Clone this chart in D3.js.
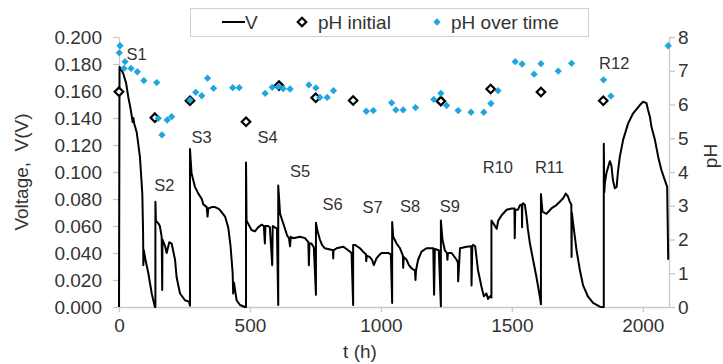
<!DOCTYPE html>
<html>
<head>
<meta charset="utf-8">
<script src="https://cdn.jsdelivr.net/npm/d3@7"></script>
<style>
  body { margin: 0; background: #fff; }
  svg { font-family: "Liberation Sans", Arial, sans-serif; }
</style>
</head>
<body>
<div id="chart"></div>
<script>
// voltage record, [t (h), V]
var voltage = [
  [0, 0], [2, 0.178], [8, 0.176], [16, 0.173], [27, 0.166], [35, 0.156], [45, 0.146], [52, 0.137],
  [55, 0.140], [58, 0.136], [68, 0.129], [80, 0.111], [89, 0.084], [92, 0.055], [93, 0.031], [95, 0.042],
  [99, 0.037], [112, 0.025], [125, 0.010], [137, 0.0], [139, 0.0],
  [139, 0.078], [141, 0.064], [150, 0.062], [156, 0.060], [163, 0.052], [165, 0.0126], [166, 0.050],
  [176, 0.045], [182, 0.040], [192, 0.048], [201, 0.047], [214, 0.035], [220, 0.022], [233, 0.010],
  [252, 0.005], [267, 0.004], [271, 0.001],
  [271, 0.117], [277, 0.099], [290, 0.089], [303, 0.084], [316, 0.080], [322, 0.076], [335, 0.074],
  [338, 0.067], [341, 0.073], [354, 0.074], [366, 0.074], [378, 0.073], [385, 0.072], [405, 0.067],
  [417, 0.059], [426, 0.045], [434, 0.025], [436, 0.010], [439, 0.018], [449, 0.005], [462, 0.0015],
  [481, 0.0], [485, 0.0],
  [485, 0.107], [487, 0.064], [506, 0.057], [519, 0.056], [531, 0.059], [545, 0.061], [553, 0.060],
  [557, 0.047], [559, 0.060], [569, 0.060], [576, 0.059], [585, 0.031], [587, 0.060], [595, 0.059],
  [603, 0.058], [608, 0.0015],
  [608, 0.090], [615, 0.069], [627, 0.062], [642, 0.053], [649, 0.051], [653, 0.045], [656, 0.052],
  [665, 0.051], [691, 0.052], [710, 0.051], [723, 0.048], [725, 0.031], [727, 0.047], [735, 0.047],
  [744, 0.044], [752, 0.009],
  [752, 0.0625], [757, 0.057], [767, 0.050], [775, 0.046], [786, 0.0435], [798, 0.043], [817, 0.042],
  [818, 0.036], [819, 0.042], [831, 0.0435], [856, 0.0447], [875, 0.042], [888, 0.040], [894, 0.0015],
  [894, 0.046], [901, 0.046], [920, 0.0435], [932, 0.041], [943, 0.039], [944, 0.034], [946, 0.038],
  [958, 0.037], [966, 0.035], [973, 0.031], [983, 0.036], [996, 0.039], [1003, 0.040], [1028, 0.040],
  [1038, 0.039], [1043, 0.003],
  [1043, 0.063], [1047, 0.052], [1060, 0.047], [1073, 0.0435], [1084, 0.038], [1085, 0.029], [1087, 0.037],
  [1098, 0.035], [1107, 0.031], [1117, 0.0287], [1130, 0.027], [1132, 0.020], [1134, 0.027], [1142, 0.035],
  [1155, 0.041], [1174, 0.0435], [1200, 0.0435], [1203, 0.009], [1206, 0.043], [1221, 0.042], [1229, 0.0005],
  [1229, 0.064], [1235, 0.050], [1244, 0.042], [1252, 0.040], [1254, 0.035], [1256, 0.040], [1270, 0.040],
  [1289, 0.035], [1294, 0.033], [1295, 0.019], [1302, 0.0435], [1327, 0.0447], [1345, 0.045], [1346, 0.016],
  [1349, 0.045], [1352, 0.046], [1360, 0.045], [1371, 0.027], [1384, 0.015], [1393, 0.008], [1403, 0.010],
  [1409, 0.006], [1416, 0.008], [1422, 0.007],
  [1422, 0.064], [1429, 0.062], [1442, 0.058], [1448, 0.064], [1461, 0.068], [1480, 0.072], [1499, 0.073],
  [1510, 0.073], [1511, 0.051], [1513, 0.072], [1523, 0.072], [1531, 0.0755], [1538, 0.076], [1539, 0.059],
  [1540, 0.076], [1543, 0.0768], [1550, 0.0755], [1556, 0.067], [1561, 0.058], [1569, 0.047], [1581, 0.035],
  [1594, 0.022], [1607, 0.0076], [1611, 0.002],
  [1611, 0.0837], [1617, 0.0706], [1632, 0.069], [1651, 0.073], [1670, 0.0755], [1683, 0.078], [1696, 0.0805],
  [1706, 0.084], [1714, 0.082], [1721, 0.078], [1727, 0.076], [1728, 0.037], [1729, 0.070], [1734, 0.062],
  [1747, 0.042], [1760, 0.027], [1772, 0.016], [1791, 0.0076], [1810, 0.003], [1836, 0.0002], [1851, 0.0],
  [1851, 0.121], [1853, 0.085], [1855, 0.0916], [1861, 0.099], [1874, 0.108], [1880, 0.105], [1886, 0.094],
  [1893, 0.088], [1900, 0.089], [1905, 0.100], [1912, 0.111], [1925, 0.124], [1944, 0.136], [1963, 0.1435],
  [1989, 0.1496], [2001, 0.152], [2014, 0.151], [2020, 0.146], [2027, 0.141], [2033, 0.1336], [2046, 0.124],
  [2059, 0.111], [2071, 0.1015], [2084, 0.094], [2093, 0.089], [2097, 0.035]
];

// pH at the start of each cycle, [t, pH]
var phInitial = [
  [0, 6.38], [137, 5.61], [271, 6.11], [485, 5.49], [611, 6.56], [751, 6.2], [894, 6.12],
  [1229, 6.1], [1419, 6.46], [1611, 6.37], [1849, 6.11]
];

// pH measured during the run, [t, pH]
var phOverTime = [
  [4, 7.74], [1, 7.53], [23, 7.27], [19, 7.07], [46, 7.07], [70, 6.97], [95, 6.71], [144, 6.65],
  [150, 5.59], [164, 5.1], [184, 5.54], [201, 5.64], [271, 6.13], [293, 6.36], [316, 6.26], [338, 6.78],
  [361, 6.48], [434, 6.5], [459, 6.5], [558, 6.33], [585, 6.51], [608, 6.53], [627, 6.47], [653, 6.46],
  [725, 6.58], [752, 6.49], [767, 6.21], [795, 6.21], [819, 6.41], [944, 5.8], [971, 5.82], [1041, 6.05],
  [1057, 5.84], [1085, 5.84], [1132, 5.91], [1202, 6.15], [1229, 6.33], [1251, 5.97], [1295, 5.82],
  [1344, 5.77], [1393, 5.77], [1420, 6.03], [1447, 6.41], [1513, 7.27], [1539, 7.2], [1585, 6.9],
  [1611, 7.21], [1677, 6.99], [1728, 7.22], [1850, 6.73], [1878, 6.25], [2097, 7.74]
];

// cycle names with the (t, V) where each label starts
var cycleNames = ["S1", "S2", "S3", "S4", "S5", "S6", "S7", "S8", "S9", "R10", "R11", "R12"];
var cycleAt = [
  [29, 0.1833], [135, 0.086], [277, 0.1215], [529, 0.1215], [653, 0.0963], [777, 0.0722],
  [930, 0.0696], [1073, 0.0706], [1225, 0.0706], [1389, 0.0989], [1588, 0.0993], [1833, 0.176]
];

var vTicks = [0, 0.02, 0.04, 0.06, 0.08, 0.1, 0.12, 0.14, 0.16, 0.18, 0.2];
var phTicks = [0, 1, 2, 3, 4, 5, 6, 7, 8];
var tTicks = [0, 500, 1000, 1500, 2000];

(function(){
    var width = 723, height = 364;
    var plotLeft = 119, plotRight = 669, plotTop = 37, plotBottom = 307;
    var axisColor = "#c8c8c8";
    var textColor = "#333";
    var blue = "#1fa6e0";

    var svg = d3.select("#chart").append("svg")
        .attr("width", width)
        .attr("height", height);

    var x = d3.scaleLinear().domain([0, 2100]).range([plotLeft, plotRight]);
    var yV = d3.scaleLinear().domain([0, 0.2]).range([plotBottom, plotTop]);
    var yPh = d3.scaleLinear().domain([0, 8]).range([plotBottom, plotTop]);

    function styleAxis(g) {
        g.select(".domain").attr("stroke", axisColor).attr("stroke-width", 1.3);
        g.selectAll(".tick line").attr("stroke", axisColor).attr("stroke-width", 1.3);
        g.selectAll(".tick text").attr("fill", textColor).style("font-size", "19px")
            .style("font-family", "'Liberation Sans', Arial, sans-serif");
    }

    svg.append("g")
        .attr("transform", "translate(" + plotLeft + ",0)")
        .call(d3.axisLeft(yV).tickValues(vTicks).tickFormat(d3.format(".3f")).tickSize(6).tickSizeOuter(0).tickPadding(11))
        .call(styleAxis);

    svg.append("g")
        .attr("transform", "translate(" + plotRight + ",0)")
        .call(d3.axisRight(yPh).tickValues(phTicks).tickFormat(d3.format("d")).tickSize(6).tickSizeOuter(0).tickPadding(3))
        .call(styleAxis);

    svg.append("g")
        .attr("transform", "translate(0," + plotBottom + ")")
        .call(d3.axisBottom(x).tickValues(tTicks).tickFormat(d3.format("d")).tickSize(5).tickSizeOuter(0).tickPadding(7))
        .call(styleAxis);

    // voltage trace
    var line = d3.line()
        .x(function(d) { return x(d[0]); })
        .y(function(d) { return yV(d[1]); });

    svg.append("path")
        .datum(voltage)
        .attr("d", line)
        .attr("fill", "none")
        .attr("stroke", "#000")
        .attr("stroke-width", 2)
        .attr("stroke-linejoin", "round");

    var diamond = d3.symbol().type(d3.symbolDiamond2);

    svg.selectAll(".ph-initial")
        .data(phInitial)
        .enter().append("path")
        .attr("class", "ph-initial")
        .attr("d", diamond.size(46)())
        .attr("transform", function(d) { return "translate(" + x(d[0]) + "," + yPh(d[1]) + ")"; })
        .attr("fill", "#fff")
        .attr("stroke", "#000")
        .attr("stroke-width", 2.2);

    svg.selectAll(".ph-time")
        .data(phOverTime)
        .enter().append("path")
        .attr("class", "ph-time")
        .attr("d", diamond.size(34)())
        .attr("transform", function(d) { return "translate(" + x(d[0]) + "," + yPh(d[1]) + ")"; })
        .attr("fill", blue);

    svg.selectAll(".cycle-label")
        .data(cycleNames)
        .enter().append("text")
        .attr("class", "cycle-label")
        .attr("x", function(d, i) { return x(cycleAt[i][0]); })
        .attr("y", function(d, i) { return yV(cycleAt[i][1]); })
        .attr("fill", textColor)
        .attr("font-size", "16.5px")
        .text(function(d) { return d; });

    // axis titles
    svg.append("text")
        .attr("transform", "translate(28,172) rotate(-90)")
        .attr("text-anchor", "middle")
        .attr("fill", textColor)
        .attr("font-size", "19px")
        .attr("xml:space", "preserve")
        .text("Voltage,  V(V)");

    svg.append("text")
        .attr("x", 360)
        .attr("y", 358)
        .attr("text-anchor", "middle")
        .attr("fill", textColor)
        .attr("font-size", "19px")
        .text("t (h)");

    svg.append("text")
        .attr("transform", "translate(717,156) rotate(-90)")
        .attr("text-anchor", "middle")
        .attr("fill", textColor)
        .attr("font-size", "19px")
        .text("pH");

    // legend
    var legend = svg.append("g");
    legend.append("rect")
        .attr("x", 190.5).attr("y", 8.5)
        .attr("width", 398).attr("height", 28)
        .attr("fill", "#fff")
        .attr("stroke", "#d0d0d0");
    legend.append("line")
        .attr("x1", 222).attr("x2", 245)
        .attr("y1", 22).attr("y2", 22)
        .attr("stroke", "#000").attr("stroke-width", 2);
    legend.append("text")
        .attr("x", 245).attr("y", 29)
        .attr("fill", textColor).attr("font-size", "19px")
        .text("V");
    legend.append("path")
        .attr("d", diamond.size(46)())
        .attr("transform", "translate(302,22)")
        .attr("fill", "#fff").attr("stroke", "#000").attr("stroke-width", 2.2);
    legend.append("text")
        .attr("x", 318).attr("y", 29)
        .attr("fill", textColor).attr("font-size", "19px")
        .text("pH initial");
    legend.append("path")
        .attr("d", diamond.size(34)())
        .attr("transform", "translate(437,22)")
        .attr("fill", blue);
    legend.append("text")
        .attr("x", 451).attr("y", 29)
        .attr("fill", textColor).attr("font-size", "19px")
        .text("pH over time");
})();
</script>
</body>
</html>
